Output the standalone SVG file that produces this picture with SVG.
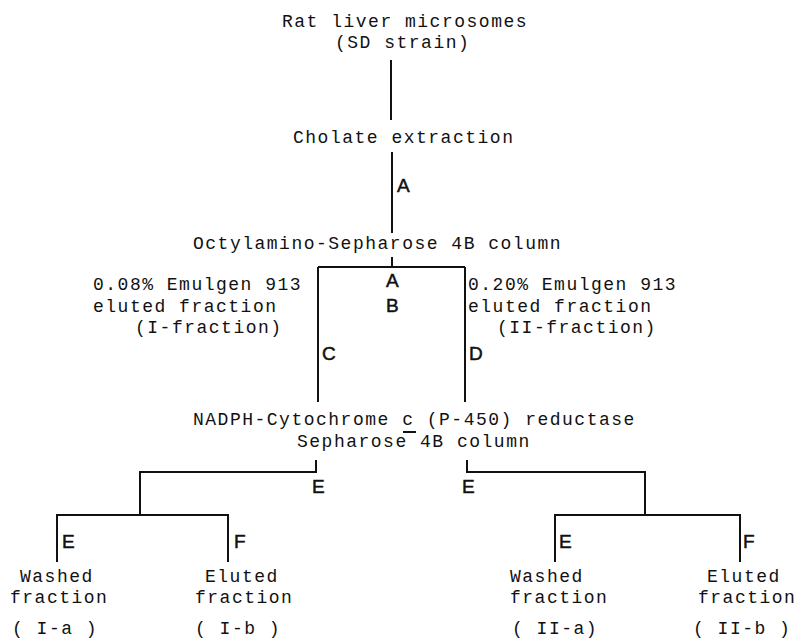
<svg xmlns="http://www.w3.org/2000/svg" width="799" height="638" viewBox="0 0 799 638">
<style>
.t{font-family:"Liberation Mono","DejaVu Sans Mono",monospace;font-size:18px;letter-spacing:1.5px;fill:#111}
.l{font-family:"Liberation Sans",Arial,sans-serif;font-size:19px;fill:#111;stroke:#111;stroke-width:0.5}
.c{stroke:#111;stroke-width:2;fill:none}
</style>
<rect width="799" height="638" fill="#fff"/>
<g id="connectors" class="c">
<path d="M391 60V120"/>
<path d="M392 152V233"/>
<path d="M392 257V267M318 267H465M318 267V402M465 267V402"/>
<path d="M403 432H416"/>
<path d="M316 460V472H140V515M57 562V515H228V562"/>
<path d="M467 460V472H645V515M555 562V515H740V562"/>
</g>
<g id="labels">
<text class="l" x="397" y="192">A</text>
<text class="l" x="386" y="287">A</text>
<text class="l" x="386" y="312">B</text>
<text class="l" x="322" y="360">C</text>
<text class="l" x="469" y="360">D</text>
<text class="l" x="312" y="493">E</text>
<text class="l" x="462" y="493">E</text>
<text class="l" x="62" y="548">E</text>
<text class="l" x="234" y="548">F</text>
<text class="l" x="559" y="548">E</text>
<text class="l" x="743" y="548">F</text>
</g>
<g id="n-rat"><text class="t" x="282" y="27">Rat liver microsomes</text><text class="t" x="335" y="48">(SD strain)</text></g>
<g id="n-cholate"><text class="t" x="293" y="143">Cholate extraction</text></g>
<g id="n-octyl"><text class="t" x="193" y="249">Octylamino-Sepharose 4B column</text></g>
<g id="n-ifrac"><text class="t" x="93" y="290">0.08% Emulgen 913</text><text class="t" x="93" y="312">eluted fraction</text><text class="t" x="135" y="333">(I-fraction)</text></g>
<g id="n-iifrac"><text class="t" x="468" y="290">0.20% Emulgen 913</text><text class="t" x="468" y="312">eluted fraction</text><text class="t" x="497" y="333">(II-fraction)</text></g>
<g id="n-nadph"><text class="t" x="193" y="425">NADPH-Cytochrome c (P-450) reductase</text><text class="t" x="297" y="447">Sepharose 4B column</text></g>
<g id="n-ia"><text class="t" x="20" y="582">Washed</text><text class="t" x="10" y="603">fraction</text><text class="t" x="12" y="634">( I-a )</text></g>
<g id="n-ib"><text class="t" x="205" y="582">Eluted</text><text class="t" x="195" y="603">fraction</text><text class="t" x="195" y="634">( I-b )</text></g>
<g id="n-iia"><text class="t" x="510" y="582">Washed</text><text class="t" x="510" y="603">fraction</text><text class="t" x="512" y="634">( II-a)</text></g>
<g id="n-iib"><text class="t" x="707" y="582">Eluted</text><text class="t" x="698" y="603">fraction</text><text class="t" x="693" y="634">( II-b )</text></g>
</svg>
